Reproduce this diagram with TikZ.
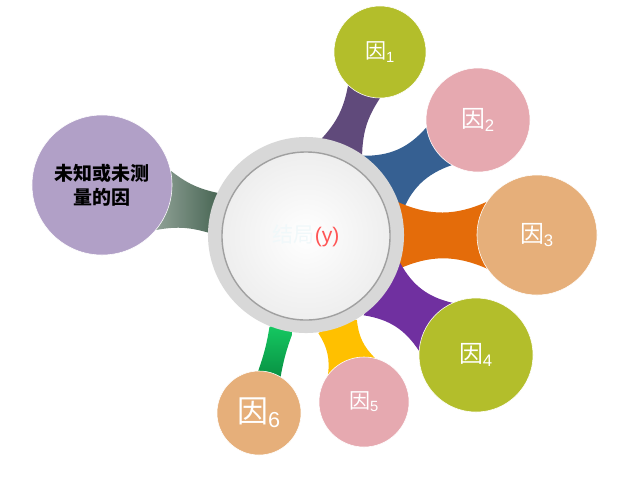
\documentclass[tikz,border=0pt]{standalone}
\usepackage{fontspec}
\setmainfont{Liberation Sans}
\newfontfamily\cjk{Noto Sans CJK SC}
\usepackage{tikz}
\usetikzlibrary{calc,backgrounds}

\definecolor{oliveC}{RGB}{179,190,43}
\definecolor{pinkC}{RGB}{230,169,176}
\definecolor{tanC}{RGB}{230,175,122}
\definecolor{lilacC}{RGB}{177,160,199}
\definecolor{ringC}{RGB}{216,216,216}
\definecolor{hubEdge}{RGB}{238,238,238}
\definecolor{hubLine}{RGB}{160,160,160}
\definecolor{resWhite}{RGB}{240,248,250}
\definecolor{resRed}{RGB}{255,85,85}

\begin{document}
\begin{tikzpicture}[x=0.025cm, y=-0.025cm,
    fac/.style={circle, inner sep=0pt, draw=white, thin, text=white, font=\fontsize{17}{20}\selectfont},
    hub/.style={circle, inner sep=0pt, minimum size=4.2cm, inner color=white, outer color=hubEdge, draw=hubLine, line width=1pt, font=\fontsize{15}{18}\selectfont},
    bandA/.style={fill={rgb,255:red,96;green,74;blue,123}},
    bandB/.style={fill={rgb,255:red,54;green,96;blue,146}},
    bandC/.style={fill={rgb,255:red,228;green,108;blue,10}},
    bandD/.style={fill={rgb,255:red,112;green,48;blue,160}},
    bandE/.style={fill={rgb,255:red,255;green,192;blue,0}},
    bandF/.style={top color={rgb,255:red,22;green,205;blue,100}, bottom color={rgb,255:red,0;green,107;blue,46}},
    bandG/.style={left color={rgb,255:red,205;green,212;blue,207}, right color={rgb,255:red,70;green,100;blue,82}}
]
    \useasboundingbox (0,0) rectangle (622,476);

    % hub
    \node[circle, fill=ringC, minimum size=4.9cm] (ring) at (306,235) {};
    \node[hub] (res) at (306,236) {{\cjk\color{resWhite}结局}\textcolor{resRed}{(y)}};

    % causes
    \node[fac, fill=oliveC, minimum size=2.3cm, font=\fontsize{15}{18}\selectfont] (f1) at (380,52) {{\cjk 因}\textsubscript{1}};
    \node[fac, fill=pinkC, minimum size=2.6cm] (f2) at (478,120) {{\cjk 因}\textsubscript{2}};
    \node[fac, fill=tanC, minimum size=3.0cm] (f3) at (537,235) {{\cjk 因}\textsubscript{3}};
    \node[fac, fill=oliveC, minimum size=2.85cm] (f4) at (476,355) {{\cjk 因}\textsubscript{4}};
    \node[fac, fill=pinkC, minimum size=2.25cm, font=\fontsize{15}{18}\selectfont] (f5) at (364,402) {{\cjk 因}\textsubscript{5}};
    \node[fac, fill=tanC, minimum size=2.1cm, font=\fontsize{22}{26}\selectfont] (f6) at (259,413) {{\cjk 因}\textsubscript{6}};
    \node[fac, fill=lilacC, minimum size=3.5cm, text=black, align=center, font=\cjk\bfseries\fontsize{13.5}{17}\selectfont] (unk) at (102,185) {未知或未测\\量的因};

    % bands between hub and causes
    \begin{scope}[on background layer]
    \foreach \f/\rf/\dc/\df/\b/\st in {f1/1.15/13/22/16/bandA, f2/1.3/21/26/25/bandB, f3/1.5/20/34/24/bandC, f4/1.425/19/31/24/bandD, f5/1.125/12/34/20/bandE, f6/1.05/7/16/5/bandF, unk/1.75/12/26/13/bandG}
        \path[\st] ($(res.center)!2.2cm!(\f.center)$) -- ($(res.center)!2.45cm!\dc:(\f.center)$) to[bend right=\b] ($(\f.center)!\rf cm!-\df:(res.center)$) -- (\f.center) -- ($(\f.center)!\rf cm!\df:(res.center)$) to[bend right=\b] ($(res.center)!2.45cm!-\dc:(\f.center)$) -- cycle;
    \end{scope}
\end{tikzpicture}
\end{document}
